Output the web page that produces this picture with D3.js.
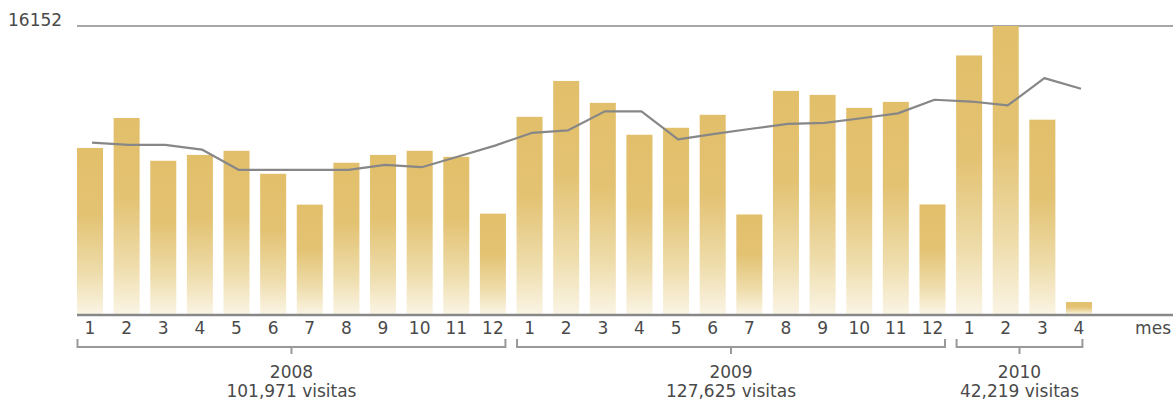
<!DOCTYPE html>
<html>
<head>
<meta charset="utf-8">
<script src="https://cdn.jsdelivr.net/npm/d3@7"></script>
<style>
  html, body { margin: 0; padding: 0; background: #fff; }
  svg { display: block; font-family: "DejaVu Sans", Verdana, sans-serif; }
</style>
</head>
<body>
<svg id="chart" width="1173" height="400"></svg>
<script>
// ---- data ----
const years = ["2008", "2009", "2010"];
const monthLabels = ["1","2","3","4","5","6","7","8","9","10","11","12",
                     "1","2","3","4","5","6","7","8","9","10","11","12",
                     "1","2","3","4"];
const visits2008 = [9313, 10993, 8593, 8923, 9153, 7863, 6133, 8483, 8923, 9153, 8813, 5628];
const visits2009 = [11059, 13071, 11841, 10053, 10444, 11171, 5582, 12512, 12289, 11562, 11897, 6144];
const visits2010 = [14500, 16152, 10898, 669];
const trend = [9613, 9485, 9485, 9222, 8087, 8087, 8087, 8087, 8367, 8233, 8831, 9445,
               10155, 10301, 11363, 11363, 9798, 10105, 10390, 10658, 10714, 10977, 11251, 12016,
               11916, 11698, 13229, 12631];
const yearCoverage = [1, 1, 0.65]; // fraction of last month covered by the bracket
const maxLabel = "16152";
const unitLabel = "mes";
const visitsWord = "visitas";

// ---- setup ----
const svg = d3.select("#chart");
const values = [...visits2008, ...visits2009, ...visits2010];
const idx = d3.range(values.length);

const x = d3.scaleBand().domain(idx).range([77, 1092]).paddingInner(0.29).paddingOuter(0);
const y = d3.scaleLinear().domain([0, 16152]).range([314, 26]);

const textColor = "#4a4a4a";
const fs = 17;

const defs = svg.append("defs");
const grad = defs.append("linearGradient").attr("id", "barGrad")
  .attr("x1", 0).attr("y1", 0).attr("x2", 0).attr("y2", 1);
grad.append("stop").attr("offset", 0).attr("stop-color", "#e2bf6a");
grad.append("stop").attr("offset", 0.4).attr("stop-color", "#e3c272");
grad.append("stop").attr("offset", 0.75).attr("stop-color", "#eedcaa");
grad.append("stop").attr("offset", 1).attr("stop-color", "#faf4e4");

// top reference line
svg.append("line")
  .attr("x1", 77).attr("x2", 1173)
  .attr("y1", y(16152)).attr("y2", y(16152))
  .attr("stroke", "#8a8a8a").attr("stroke-width", 1.6);

svg.append("text")
  .attr("x", 8).attr("y", y(16152))
  .attr("font-size", fs).attr("fill", textColor)
  .text(maxLabel);

// bars
svg.append("g").selectAll("rect").data(values).join("rect")
  .attr("x", (d, i) => x(i))
  .attr("width", x.bandwidth())
  .attr("y", d => y(d))
  .attr("height", d => y(0) - y(d))
  .attr("fill", "url(#barGrad)");

// trend line
const line = d3.line()
  .x((d, i) => x(i) + x.bandwidth() / 2 + 2)
  .y(d => y(d));
svg.append("path").datum(trend)
  .attr("d", line)
  .attr("fill", "none")
  .attr("stroke", "#878787")
  .attr("stroke-width", 2.2)
  .attr("stroke-linejoin", "round");

// baseline axis
svg.append("line")
  .attr("x1", 77).attr("x2", 1173)
  .attr("y1", y(0) + 1).attr("y2", y(0) + 1)
  .attr("stroke", "#888").attr("stroke-width", 2.5);

// month tick labels
svg.append("g").selectAll("text").data(monthLabels).join("text")
  .attr("x", (d, i) => x(i) + x.bandwidth() / 2)
  .attr("y", 334)
  .attr("text-anchor", "middle")
  .attr("font-size", fs)
  .attr("fill", textColor)
  .text(d => d);

svg.append("text")
  .attr("x", 1171).attr("y", 334)
  .attr("text-anchor", "end")
  .attr("font-size", fs).attr("fill", textColor)
  .text(unitLabel);

// year brackets
const yearData = [visits2008, visits2009, visits2010];
let start = 0;
const fmt = d3.format(",");
yearData.forEach((arr, k) => {
  const first = start, last = start + arr.length - 1;
  start += arr.length;
  const x0 = x(first) + 0.5;
  const x1 = x(last) + x.bandwidth() * yearCoverage[k] - 0.5;
  const cx = (x0 + x1) / 2;
  const yb = 347;
  const g = svg.append("g").attr("stroke", "#999").attr("stroke-width", 2).attr("fill", "none");
  g.append("path").attr("d", `M${x0},${yb - 8}V${yb}H${x1}V${yb - 8}`);
  g.append("line").attr("x1", cx).attr("x2", cx).attr("y1", yb).attr("y2", yb + 7);
  svg.append("text").attr("x", cx).attr("y", 378)
    .attr("text-anchor", "middle").attr("font-size", fs).attr("fill", textColor)
    .text(years[k]);
  svg.append("text").attr("x", cx).attr("y", 397)
    .attr("text-anchor", "middle").attr("font-size", fs).attr("fill", textColor)
    .text(fmt(d3.sum(arr)) + " " + visitsWord);
});
</script>
</body>
</html>
